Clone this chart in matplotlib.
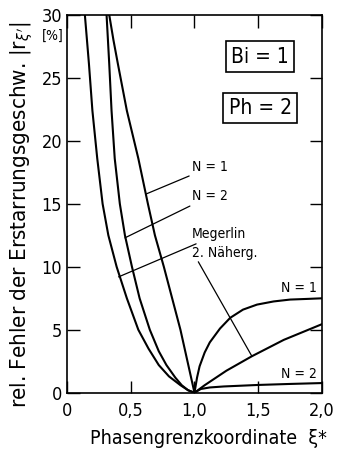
import matplotlib
matplotlib.use("Agg")
import matplotlib.pyplot as plt

plt.rcParams['font.family'] = ['DejaVu Sans']
plt.rcParams['font.stretch'] = 'condensed'
plt.rcParams['mathtext.fontset'] = 'dejavusans'

# left branches (xi < 1)
xi_megerlin_l = [0.141, 0.173, 0.20, 0.238, 0.28, 0.325, 0.39, 0.47, 0.56, 0.64, 0.72, 0.80, 0.89, 0.95, 1.0]
err_megerlin_l = [30, 26.1, 22.4, 18.6, 15, 12.5, 10, 7.5, 5, 3.5, 2.2, 1.3, 0.6, 0.2, 0]

xi_n2_l = [0.311, 0.332, 0.35, 0.375, 0.415, 0.455, 0.51, 0.57, 0.65, 0.72, 0.78, 0.85, 0.90, 0.95, 1.0]
err_n2_l = [30, 26.1, 22.4, 18.6, 15, 12.5, 10, 7.5, 5, 3.3, 2.2, 1.2, 0.6, 0.2, 0]

xi_n1_l = [0.332, 0.365, 0.40, 0.47, 0.56, 0.635, 0.69, 0.76, 0.825, 0.89, 0.945, 1.0]
err_n1_l = [30, 28, 26.1, 22.4, 18.6, 15, 12.5, 10, 7.5, 5, 2.5, 0]

# right branches (xi > 1)
xi_n1_r = [1.0, 1.02, 1.04, 1.08, 1.12, 1.2, 1.28, 1.38, 1.49, 1.62, 1.75, 1.88, 2.0]
err_n1_r = [0, 1.2, 2.1, 3.2, 4.0, 5.1, 5.95, 6.6, 7.0, 7.25, 7.4, 7.45, 7.5]

xi_megerlin_r = [1.0, 1.08, 1.25, 1.45, 1.7, 2.0]
err_megerlin_r = [0, 0.6, 1.75, 2.9, 4.2, 5.45]

xi_n2_r = [1.0, 1.05, 1.12, 1.23, 1.5, 1.75, 2.0]
err_n2_r = [0, 0.3, 0.42, 0.5, 0.62, 0.7, 0.77]

xticks = [0, 0.5, 1.0, 1.5, 2.0]
xtick_labels = ['0', '0,5', '1,0', '1,5', '2,0']
yticks = [0, 5, 10, 15, 20, 25, 30]

fig = plt.figure(figsize=(3.43, 4.53), dpi=100)
ax = fig.add_axes([0.195, 0.133, 0.744, 0.834])

lw = 1.5
for xs, ys in [(xi_megerlin_l, err_megerlin_l), (xi_n2_l, err_n2_l), (xi_n1_l, err_n1_l),
               (xi_n1_r, err_n1_r), (xi_megerlin_r, err_megerlin_r), (xi_n2_r, err_n2_r)]:
    ax.plot(xs, ys, color='black', lw=lw, solid_capstyle='round', solid_joinstyle='round')

ax.set_xlim(0, 2.0)
ax.set_ylim(0, 30)
ax.set_xticks(xticks)
ax.set_xticklabels(xtick_labels)
ax.set_yticks(yticks)
ax.tick_params(direction='in', length=9, width=1.0, labelsize=13, top=True, right=True)
ax.tick_params(axis='x', pad=7)
for s in ax.spines.values():
    s.set_linewidth(1.2)

ax.set_xlabel('Phasengrenzkoordinate  ξ*', fontsize=14, va='top')
ax.xaxis.set_label_coords(0.553, -0.095)
ax.set_ylabel("rel. Fehler der Erstarrungsgeschw. |r$_{ξ'}$|", fontsize=16)
ax.yaxis.set_label_coords(-0.125, 0.47)
ax.text(-0.055, 0.945, '[%]', transform=ax.transAxes, ha='center', va='center', fontsize=10)

# parameter boxes
box = dict(boxstyle='square,pad=0.25', fc='white', ec='black', lw=1.2)
ax.text(1.514, 26.7, 'Bi = 1', ha='center', va='center', fontsize=15, bbox=box)
ax.text(1.514, 22.6, 'Ph = 2', ha='center', va='center', fontsize=15, bbox=box)

# labels with pointer lines
lp = dict(arrowstyle='-', color='black', lw=0.9, shrinkA=0, shrinkB=0)
ax.annotate('N = 1', xy=(0.625, 15.8), xytext=(0.98, 17.9), fontsize=10, va='center', ha='left', arrowprops=lp)
ax.annotate('N = 2', xy=(0.455, 12.3), xytext=(0.98, 15.6), fontsize=10, va='center', ha='left', arrowprops=lp)
ax.annotate('Megerlin', xy=(0.405, 9.2), xytext=(0.98, 12.6), fontsize=10, va='center', ha='left', arrowprops=lp)
ax.text(0.98, 11.1, '2. Näherg.', fontsize=10, va='center', ha='left')
ax.annotate('', xy=(1.45, 2.9), xytext=(1.03, 10.4), arrowprops=lp)
ax.text(1.96, 8.3, 'N = 1', fontsize=10, va='center', ha='right')
ax.text(1.96, 1.45, 'N = 2', fontsize=10, va='center', ha='right')

fig.savefig('out.png', dpi=100)
